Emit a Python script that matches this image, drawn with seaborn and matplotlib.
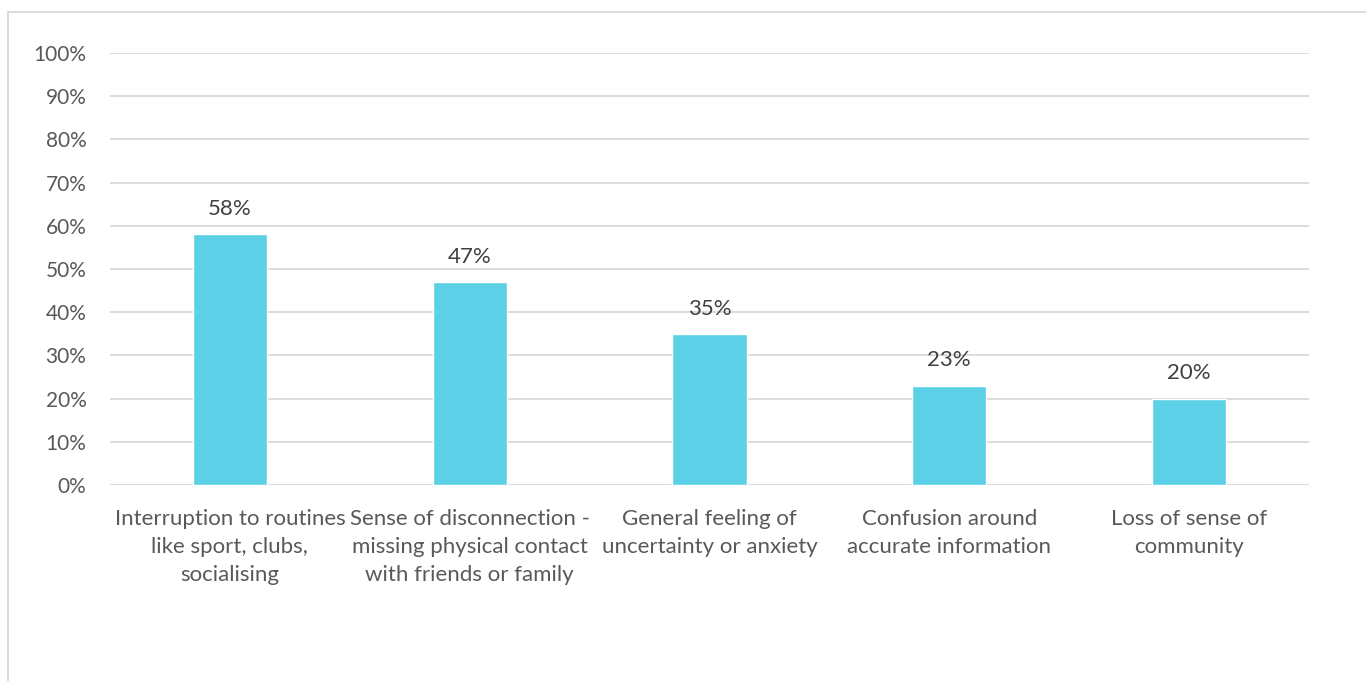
import matplotlib
matplotlib.use("Agg")
import matplotlib.pyplot as plt
from matplotlib.lines import Line2D
from matplotlib.ticker import MultipleLocator, PercentFormatter
import seaborn as sns
import pandas as pd

categories = [
    "Interruption to routines\nlike sport, clubs,\nsocialising",
    "Sense of disconnection -\nmissing physical contact\nwith friends or family",
    "General feeling of\nuncertainty or anxiety",
    "Confusion around\naccurate information",
    "Loss of sense of\ncommunity",
]
values = [58, 47, 35, 23, 20]

df = pd.DataFrame({"category": categories, "value": values})

sns.set_theme(style="white")
plt.rcParams["font.family"] = ["Lato", "DejaVu Sans"]

bar_color = "#5BD0E6"
grid_color = "#D9D9D9"
tick_color = "#595959"
label_color = "#404040"

fig = plt.figure(figsize=(13.66, 6.81), dpi=100)
ax = fig.add_axes([110 / 1366, 1 - 485 / 681, 1199 / 1366, 432 / 681])

sns.barplot(data=df, x="category", y="value", color=bar_color,
            width=0.31, saturation=1, ax=ax, zorder=3)

ax.set_ylim(0, 100)
ax.set_xlim(-0.5, len(categories) - 0.5)
ax.yaxis.set_major_locator(MultipleLocator(10))
ax.yaxis.set_major_formatter(PercentFormatter(decimals=0))
ax.grid(axis="y", color=grid_color, linewidth=1.3, zorder=0)
ax.set_axisbelow(True)
for s in ax.spines.values():
    s.set_visible(False)
ax.set_xlabel("")
ax.set_ylabel("")
ax.tick_params(axis="y", length=0, pad=17, labelsize=15, labelcolor=tick_color)
ax.tick_params(axis="x", length=0, pad=17, labelsize=16, labelcolor=tick_color)
for lbl in ax.get_xticklabels():
    lbl.set_linespacing(1.5)

for i, v in enumerate(values):
    ax.annotate(f"{v}%", (i, v), xytext=(0, 11), textcoords="offset points",
                ha="center", va="bottom", fontsize=16, color=label_color)

# thin frame around the chart area
fig.add_artist(Line2D([8 / 1366, 8 / 1366], [0, 1 - 12 / 681],
                      transform=fig.transFigure, color=grid_color, linewidth=1.3))
fig.add_artist(Line2D([8 / 1366, 1], [1 - 12 / 681, 1 - 12 / 681],
                      transform=fig.transFigure, color=grid_color, linewidth=1.3))

fig.savefig("out.png", dpi=100, facecolor="white")
